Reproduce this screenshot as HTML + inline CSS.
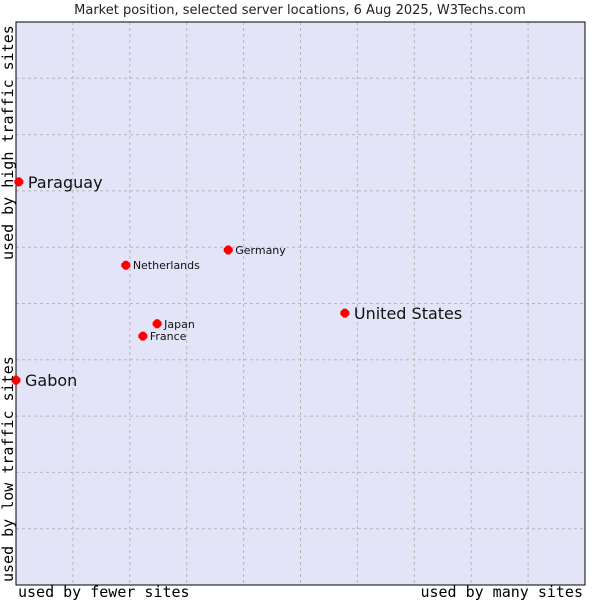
<!DOCTYPE html>
<html><head><meta charset="utf-8"><style>
body{margin:0;background:#fff;width:600px;height:600px;overflow:hidden}
svg text{font-family:"DejaVu Sans","Liberation Sans",sans-serif}
</style></head><body>
<svg id="chart" width="600" height="600" xmlns="http://www.w3.org/2000/svg">
<text x="300" y="14" text-anchor="middle" font-size="13" fill="#222">Market position, selected server locations, 6 Aug 2025, W3Techs.com</text>
<rect x="16" y="22" width="569" height="563" fill="#e3e4f8"/>
<g id="grid"></g>
<rect x="16" y="22" width="569" height="563" fill="none" stroke="#000" stroke-width="1"/>
<g id="points"></g>
<text x="18" y="597" font-family="DejaVu Sans Mono, Liberation Mono, monospace" font-size="15" fill="#000" style="font-family:'DejaVu Sans Mono','Liberation Mono',monospace">used by fewer sites</text>
<text x="583" y="597" text-anchor="end" font-size="15" fill="#000" style="font-family:'DejaVu Sans Mono','Liberation Mono',monospace">used by many sites</text>
<text transform="translate(13,582) rotate(-90)" font-size="15" fill="#000" style="font-family:'DejaVu Sans Mono','Liberation Mono',monospace">used by low traffic sites</text>
<text transform="translate(13,260) rotate(-90)" font-size="15" fill="#000" style="font-family:'DejaVu Sans Mono','Liberation Mono',monospace">used by high traffic sites</text>
</svg>
<script>
const countries = ["Paraguay","Gabon","Germany","Netherlands","United States","Japan","France"];
const xValues = [0.5, 0, 37.3, 19.3, 57.8, 24.8, 22.3];
const yValues = [71.6, 36.4, 59.5, 56.8, 48.3, 46.4, 44.2];
const labelSizes = ["big","big","small","small","big","small","small"];
const X0=16,X1=585,Y0=22,Y1=585;
const sx=v=>X0+v/100*(X1-X0);
const sy=v=>Y1-v/100*(Y1-Y0);
const NS="http://www.w3.org/2000/svg";
const grid=document.getElementById('grid');
for(let i=1;i<10;i++){
  const l=document.createElementNS(NS,'line');
  const x=sx(i*10);
  l.setAttribute('x1',x);l.setAttribute('x2',x);l.setAttribute('y1',Y0);l.setAttribute('y2',Y1);
  l.setAttribute('stroke','#b8b8b8');l.setAttribute('stroke-dasharray','3,3');
  
  
  grid.appendChild(l);
  const h=document.createElementNS(NS,'line');
  const y=sy(i*10);
  h.setAttribute('x1',X0);h.setAttribute('x2',X1);h.setAttribute('y1',y);h.setAttribute('y2',y);
  h.setAttribute('stroke','#b8b8b8');h.setAttribute('stroke-dasharray','3,3');
  
  
  grid.appendChild(h);
}
const pts=document.getElementById('points');
countries.forEach((c,i)=>{
  const x=sx(xValues[i]),y=sy(yValues[i]);
  const big=labelSizes[i]==="big";
  const d=document.createElementNS(NS,'path');
  const r=big?4.5:4.5;
  d.setAttribute('d',`M${x-r},${y-1.5} L${x-1.5},${y-r} L${x+1.5},${y-r} L${x+r},${y-1.5} L${x+r},${y+1.5} L${x+1.5},${y+r} L${x-1.5},${y+r} L${x-r},${y+1.5}Z`);
  d.setAttribute('fill','#ff0000');
  
  
  pts.appendChild(d);
  const t=document.createElementNS(NS,'text');
  t.setAttribute('x',x+(big?9:7));
  t.setAttribute('y',y+(big?6:4));
  t.setAttribute('font-size',big?16:11);
  t.setAttribute('fill','#111');
  t.textContent=c;
  
  
  pts.appendChild(t);
});
</script>
</body></html>
